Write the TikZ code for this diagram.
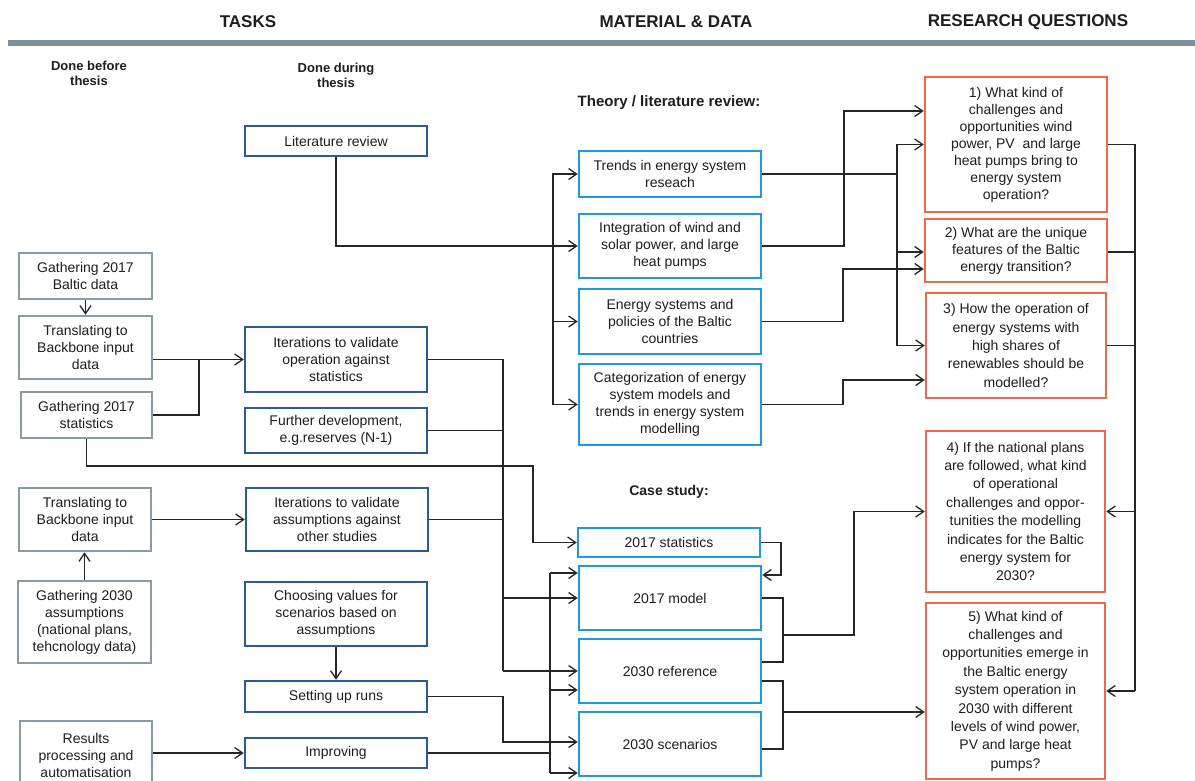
\documentclass[tikz,border=0pt]{standalone}
\usepackage{fontspec}
\setmainfont{Liberation Sans}
\usetikzlibrary{arrows.meta,calc}
\definecolor{txt}{HTML}{1E1E1E}
\definecolor{lin}{HTML}{262626}
\definecolor{gbord}{HTML}{8A9BA6}
\definecolor{dbord}{HTML}{2C5B8E}
\definecolor{mbord}{HTML}{1E9BDE}
\definecolor{rbord}{HTML}{F0674A}
\definecolor{barc}{HTML}{7F9099}
\begin{document}
\begin{tikzpicture}[x=1pt,y=-1pt,
  every node/.style={font=\fontsize{14}{17}\selectfont, text=txt, align=center, inner sep=0pt},
  box/.style={draw, line width=2.5pt, fill=white},
  gbox/.style={box, draw=gbord},
  dbox/.style={box, draw=dbord},
  mbox/.style={box, draw=mbord},
  rbox/.style={box, draw=rbord},
  sz/.style 2 args={minimum width=#1, minimum height=#2},
  tall/.style={font=\fontsize{14}{18.4}\selectfont},
  conn/.style={draw=lin, line width=1.3pt},
  arr/.style={conn, -{Straight Barb[length=8pt,width=11pt]}},
  hdr/.style={font=\bfseries\fontsize{17}{20}\selectfont},
  sublab/.style={font=\bfseries\fontsize{13}{15}\selectfont},
  seclab/.style={font=\bfseries\fontsize{14}{17}\selectfont}]
\useasboundingbox (0,0) rectangle (1195,781);
\fill[white] (0,0) rectangle (1195,781);

% headers
\node[hdr] (hT) at (248,22) {TASKS};
\node[hdr] (hM) at (676,22) {MATERIAL \& DATA};
\node[hdr] (hR) at (1028,22) {RESEARCH QUESTIONS};
\draw[line width=6pt, barc] (8,43) -- (1195,43);
\node[sublab] (sb) at (89,73) {Done before\\thesis};
\node[sublab] (sd) at (336,75) {Done during\\thesis};
\node[seclab, font=\bfseries\fontsize{15}{17}\selectfont] (st) at (669,103) {Theory / literature review:};
\node[seclab] (sc) at (669,492) {Case study:};

% before thesis
\node[gbox, sz={133}{46}] (b1) at (85.5,276) {Gathering 2017\\Baltic data};
\node[gbox, sz={133}{63}] (b2) at (85.5,347.5) {Translating to\\Backbone input\\data};
\node[gbox, sz={131}{46}] (b3) at (86.5,415) {Gathering 2017\\statistics};
\node[gbox, sz={132}{63}] (b4) at (85,519.5) {Translating to\\Backbone input\\data};
\node[gbox, sz={133}{82}] (b5) at (84.5,622) {Gathering 2030\\assumptions\\(national plans,\\tehcnology data)};
\node[gbox, sz={132}{68}] (b6) at (86,755) {Results\\processing and\\automatisation};

% during thesis
\node[dbox, sz={182}{30}] (d1) at (336,141) {Literature review};
\node[dbox, sz={182}{65}] (d2) at (336,359.5) {Iterations to validate\\operation against\\statistics};
\node[dbox, sz={182}{45}] (d3) at (336,430.5) {Further development,\\e.g.reserves (N-1)};
\node[dbox, sz={182}{63}] (d4) at (337,519.5) {Iterations to validate\\assumptions against\\other studies};
\node[dbox, sz={182}{64}] (d5) at (336,614) {Choosing values for\\scenarios based on\\assumptions};
\node[dbox, sz={182}{31}] (d6) at (336,696.5) {Setting up runs};
\node[dbox, sz={182}{30}] (d7) at (336,753) {Improving};

% material & data
\node[mbox, sz={182}{46}] (m1) at (670,174) {Trends in energy system\\reseach};
\node[mbox, sz={182}{64}] (m2) at (670,246) {Integration of wind and\\solar power, and large\\heat pumps};
\node[mbox, sz={182}{65}] (m3) at (670,321.5) {Energy systems and\\policies of the Baltic\\countries};
\node[mbox, sz={182}{81}] (m4) at (670,404.5) {Categorization of energy\\system models and\\trends in energy system\\modelling};
\node[mbox, sz={182}{29}] (c1) at (669,542.5) {2017 statistics};
\node[mbox, sz={182}{64}] (c2) at (670,598) {2017 model};
\node[mbox, sz={182}{64}] (c3) at (670,671) {2030 reference};
\node[mbox, sz={182}{64}] (c4) at (670,744) {2030 scenarios};

% research questions
\node[rbox, sz={182}{135}] (r1) at (1016,144.5) {1) What kind of\\challenges and\\opportunities wind\\power, PV\ \ and large\\heat pumps bring to\\energy system\\operation?};
\node[rbox, sz={182}{63}] (r2) at (1016,250.5) {2) What are the unique\\features of the Baltic\\energy transition?};
\node[rbox, tall, sz={180}{105}] (r3) at (1016,345.5) {3) How the operation of\\energy systems with\\high shares of\\renewables should be\\modelled?};
\node[rbox, tall, sz={179}{161}] (r4) at (1015.5,511.5) {4) If the national plans\\are followed, what kind\\of operational\\challenges and oppor-\\tunities the modelling\\indicates for the Baltic\\energy system for\\2030?};
\node[rbox, tall, sz={179}{176}] (r5) at (1015.5,691) {5) What kind of\\challenges and\\opportunities emerge in\\the Baltic energy\\system operation in\\2030 with different\\levels of wind power,\\PV and large heat\\pumps?};

% junction coordinates
\coordinate (jA) at (199,0);
\coordinate (jD) at (503,0);
\coordinate (jC) at (550,0);
\coordinate (jL) at (553,246);
\coordinate (jT) at (897,174);
\coordinate (jR) at (1135,0);

% left column connectors
\draw[arr] (b1.south) -- (b2.north);
\draw[arr] (b2.east |- d2.west) -- (d2.west);
\draw[conn] (b3.east) -| (jA |- d2.west);
\draw[arr] (b3.south) |- (533,466) |- (c1.west);
\draw[arr] (b4.east) -- (d4.west);
\draw[arr] (b5.north) -- (b5.north |- b4.south);
\draw[arr] (b6.east |- d7.west) -- (d7.west);
\draw[arr] (d5.south) -- (d6.north);

% literature review to theory boxes
\draw[arr] (d1.south) |- (m2.west);
\draw[arr] (jL) |- (m1.west);
\draw[arr] (jL) |- (m3.west);
\draw[arr] (jL) |- (m4.west);

% during thesis to case study
\draw[conn] (d2.east) -- (d2.east -| jD) -- (jD |- c3.west);
\draw[conn] (d3.east) -- (d3.east -| jD);
\draw[conn] (d4.east) -- (d4.east -| jD);
\draw[arr] (jD |- c2.west) -- (c2.west);
\draw[arr] (jD |- c3.west) -- (c3.west);
\draw[arr] (d6.east) -| (503,742) -- (c4.west |- 0,742);
\draw[conn] (d7.east) -- (d7.east -| jC);
\draw[conn] (550,573) -- (550,773);
\draw[arr] (550,573) -- (c2.west |- 0,573);
\draw[arr] (550,690) -- (c3.west |- 0,690);
\draw[arr] (550,773) -- (c4.west |- 0,773);

% case study internal and to RQ
\draw[arr] (c1.east) -| (781,575) -- (c2.east |- 0,575);
\draw[conn] (c2.east) -| (783,662) -- (c3.east |- 0,662);
\draw[arr] (783,635) -| (854,511.5) -- (r4.west);
\draw[conn] (c3.east |- 0,681) -| (783,749) -- (c4.east |- 0,749);
\draw[arr] (783,712) -- (r5.west |- 0,712);

% theory boxes to RQ
\draw[conn] (m1.east) -- (jT);
\draw[arr] (jT) |- (r1.west);
\draw[arr] (jT) |- (r2.west |- 0,252);
\draw[arr] (jT) |- (r3.west);
\draw[arr] (m2.east) -| (844,111) -- (r1.west |- 0,111);
\draw[arr] (m3.east) -| (843,269) -- (r2.west |- 0,269);
\draw[arr] (m4.east) -| (843,380) -- (r3.west |- 0,380);

% RQ bus
\draw[conn] (r1.east) -| (jR |- r5.east);
\draw[conn] (r2.east |- 0,252) -- (jR |- 0,252);
\draw[conn] (r3.east) -- (r3.east -| jR);
\draw[arr] (jR |- r4.east) -- (r4.east);
\draw[arr] (jR |- r5.east) -- (r5.east);
\end{tikzpicture}
\end{document}
